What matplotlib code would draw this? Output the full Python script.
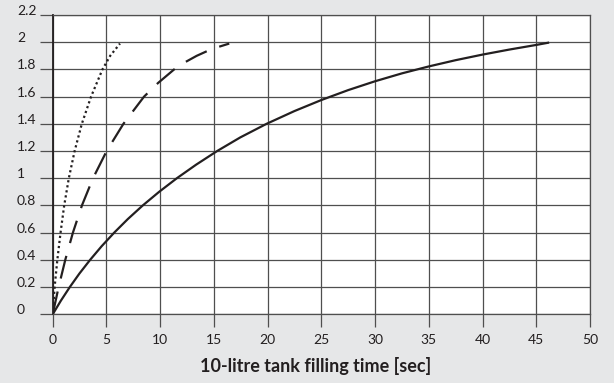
import matplotlib
matplotlib.use("Agg")
import matplotlib.pyplot as plt

# fill level [bar?] vs. 10-litre tank filling time [sec]
dotted_t = [0, 0.18, 0.43, 0.73, 1.07, 1.5, 2.04, 2.71, 3.57, 4.63, 5.35, 6.26]
dotted_y = [0, 0.2, 0.4, 0.6, 0.8, 1.0, 1.2, 1.4, 1.6, 1.8, 1.9, 1.99]

dashed_t = [0, 0.55, 1.17, 1.88, 2.72, 3.75, 5.02, 6.58, 8.5, 9.8, 11.3, 12.25, 13.4, 14.8, 16.43]
dashed_y = [0, 0.2, 0.4, 0.6, 0.8, 1.0, 1.2, 1.4, 1.6, 1.7, 1.8, 1.85, 1.9, 1.95, 1.99]

solid_t = [0, 0.76, 1.59, 2.49, 3.48, 4.55, 5.72, 6.99, 8.38, 9.9, 11.55, 13.35, 15.3,
           17.45, 19.9, 22.5, 25, 27.5, 30, 32.5, 35, 37.5, 40, 42.5, 45, 46.1]
solid_y = [0, 0.1, 0.2, 0.3, 0.4, 0.5, 0.6, 0.7, 0.8, 0.9, 1.0, 1.1, 1.2,
           1.3, 1.4, 1.494, 1.575, 1.648, 1.713, 1.771, 1.822, 1.868, 1.909, 1.946, 1.98, 1.996]

xticks = [0, 5, 10, 15, 20, 25, 30, 35, 40, 45, 50]
yticks = [0, 0.2, 0.4, 0.6, 0.8, 1, 1.2, 1.4, 1.6, 1.8, 2, 2.2]
ytick_labels = ["0", "0.2", "0.4", "0.6", "0.8", "1", "1.2", "1.4", "1.6", "1.8", "2", "2.2"]
xlabel = "10-litre tank filling time [sec]"

bg = "#e6e7e8"
ink = "#231f20"
grid_c = "#4f4f4f"

plt.rcParams["font.family"] = ["Lato", "DejaVu Sans"]

fig = plt.figure(figsize=(6.14, 3.83), dpi=100, facecolor=bg)
ax = fig.add_axes([52.7 / 614, (383 - 314.3) / 383, (590 - 52.7) / 614, (314.3 - 15) / 383])
ax.set_facecolor("white")

ax.plot(solid_t, solid_y, color=ink, lw=1.6, solid_joinstyle="round", zorder=3)
ax.plot(dashed_t, dashed_y, color=ink, lw=1.6, linestyle=(0, (10.5, 6)), zorder=3)
ax.plot(dotted_t, dotted_y, color=ink, lw=1.6, linestyle=(0, (1, 1.3)), zorder=3)

ax.set_xlim(0, 50)
ax.set_ylim(0, 2.2)
ax.set_xticks(xticks)
ax.set_xticklabels([str(v) for v in xticks])
ax.set_yticks(yticks)
ax.set_yticklabels(ytick_labels, ha="left", va="baseline")

ax.grid(True, color=grid_c, lw=0.9)
ax.set_axisbelow(True)
for s in ["top", "right", "bottom"]:
    ax.spines[s].set_color(grid_c)
    ax.spines[s].set_linewidth(0.9)
ax.spines["left"].set_color(ink)
ax.spines["left"].set_linewidth(1.3)

ax.tick_params(axis="y", length=9.1, width=0.9, color=grid_c, pad=16.6,
               labelsize=10, labelcolor=ink)
ax.tick_params(axis="x", length=9.1, width=0.9, color=grid_c, pad=5,
               labelsize=10, labelcolor=ink)

fig.text(315.5 / 614, (383 - 372) / 383, xlabel, ha="center", va="baseline",
         fontsize=13, fontweight="bold", color=ink)

fig.savefig("out.png", dpi=100, facecolor=bg)
